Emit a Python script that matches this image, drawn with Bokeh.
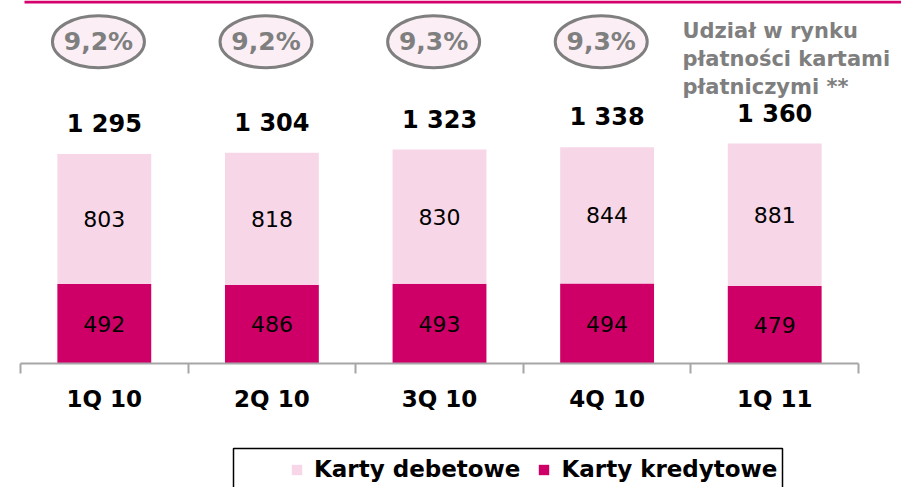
from bokeh.plotting import figure
from bokeh.models import (ColumnDataSource, Range1d, FixedTicker, Legend, LegendItem,
                          BoxAnnotation, Label)
from bokeh.core.properties import value
from bokeh.embed import file_html
from bokeh.resources import INLINE

# ---------------- data ----------------
categories = ["1Q 10", "2Q 10", "3Q 10", "4Q 10", "1Q 11"]
debit = [803, 818, 830, 844, 881]     # Karty debetowe
credit = [492, 486, 493, 494, 479]    # Karty kredytowe
market_share = ["9,2%", "9,2%", "9,3%", "9,3%"]
note_lines = ["Udział w rynku", "płatności kartami", "płatniczymi **"]
legend_labels = ["Karty debetowe", "Karty kredytowe"]

# ---------------- styles / layout ----------------
DARK = "#CE0068"
LIGHT = "#F7D6E7"
GRAY = "#7F7F7F"
FONT = "DejaVu Sans"
W, H = 901, 487
PX_PER_CAT = 167.6
PX_PER_UNIT = 0.1617
AX_LEFT, AX_Y = 20, 363   # page pixels of axis start / baseline

x = [i + 0.5 for i in range(len(categories))]
total = [d + c for d, c in zip(debit, credit)]
src = ColumnDataSource(dict(
    x=x, cat=categories, debit=debit, credit=credit, total=total,
    total_txt=[f"{t:,}".replace(",", " ") for t in total],
    credit_txt=[str(v) for v in credit],
    debit_txt=[str(v) for v in debit],
    credit_mid=[c / 2 for c in credit],
    debit_mid=[c + d / 2 for c, d in zip(credit, debit)],
))

x_start = -AX_LEFT / PX_PER_CAT
x_end = x_start + W / PX_PER_CAT
y_end = AX_Y / PX_PER_UNIT
y_start = -(H - AX_Y) / PX_PER_UNIT

p = figure(width=W, height=H, output_backend="svg", toolbar_location=None,
           x_range=Range1d(x_start, x_end), y_range=Range1d(y_start, y_end),
           y_axis_location=None, min_border=0)
p.outline_line_color = None
p.grid.visible = False
p.background_fill_color = "white"

rs = p.vbar_stack(["credit", "debit"], x="x", width=0.56, color=[DARK, LIGHT],
                  line_color=None, source=src)

# segment labels
p.text(x="x", y="credit_mid", text="credit_txt", source=src, text_align="center",
       text_baseline="middle", text_font=value(FONT), text_font_size="22px",
       text_color="black")
p.text(x="x", y="debit_mid", text="debit_txt", source=src, text_align="center",
       text_baseline="middle", text_font=value(FONT), text_font_size="22px",
       text_color="black")
# totals
p.text(x="x", y="total", text="total_txt", source=src, text_align="center",
       text_baseline="alphabetic", y_offset=-30, text_font=value(FONT),
       text_font_size="24px", text_font_style="bold", text_color="black")

# market-share bubbles
BUBBLE_Y = 1990
bsrc = ColumnDataSource(dict(x=[v - 0.035 for v in x[:len(market_share)]],
                             y=[BUBBLE_Y] * len(market_share), t=market_share))
p.ellipse(x="x", y="y", width=92, height=52, width_units="screen",
          height_units="screen", fill_color="#FBEFF5", line_color=GRAY,
          line_width=3, source=bsrc)
p.text(x="x", y="y", text="t", source=bsrc, text_align="center",
       text_baseline="middle", text_font=value(FONT), text_font_size="25px",
       text_font_style="bold", text_color=GRAY)

# note text (top right)
for i, line in enumerate(note_lines):
    p.add_layout(Label(x=682, y=H - 30 - i * 28, x_units="screen", y_units="screen",
                       text=line, text_font=FONT, text_font_size="21px",
                       text_font_style="bold", text_color=GRAY,
                       text_baseline="alphabetic", text_align="left"))

# top decorative line
p.add_layout(BoxAnnotation(left=24, right=W, top=H, bottom=H - 3,
                           left_units="screen", right_units="screen",
                           top_units="screen", bottom_units="screen",
                           fill_color="#D5006D", fill_alpha=1, line_color=None))

# x axis: labels at centres, ticks at boundaries
ax = p.xaxis[0]
ax.fixed_location = 0
ax.bounds = (0, len(categories))
ax.ticker = FixedTicker(ticks=x, minor_ticks=list(range(len(categories) + 1)))
ax.major_label_overrides = {v: c for v, c in zip(x, categories)}
ax.major_tick_out = 0
ax.major_tick_in = 0
ax.minor_tick_out = 10
ax.minor_tick_in = 0
ax.minor_tick_line_color = "#A6A6A6"
ax.minor_tick_line_width = 2
ax.axis_line_color = "#A6A6A6"
ax.axis_line_width = 2
ax.major_label_standoff = 12
ax.major_label_text_font = FONT
ax.major_label_text_font_size = "23px"
ax.major_label_text_font_style = "bold"
ax.major_label_text_color = "black"

# legend
legend = Legend(items=[LegendItem(label=legend_labels[0], renderers=[rs[1]]),
                       LegendItem(label=legend_labels[1], renderers=[rs[0]])],
                orientation="horizontal", location=(285, 0), padding=5,
                spacing=17, label_standoff=11, glyph_width=13, glyph_height=13,
                border_line_alpha=0, background_fill_alpha=0, margin=0,
                label_text_font=FONT, label_text_font_style="bold",
                label_text_font_size="23px", label_text_color="black")
p.add_layout(legend, "center")
p.add_layout(BoxAnnotation(left=233, right=782, top=H - 448, bottom=-10,
                           left_units="screen", right_units="screen",
                           top_units="screen", bottom_units="screen",
                           fill_alpha=0, line_color="black", line_alpha=1,
                           line_width=1.5))

open("out.html", "w").write(file_html(p, INLINE))
